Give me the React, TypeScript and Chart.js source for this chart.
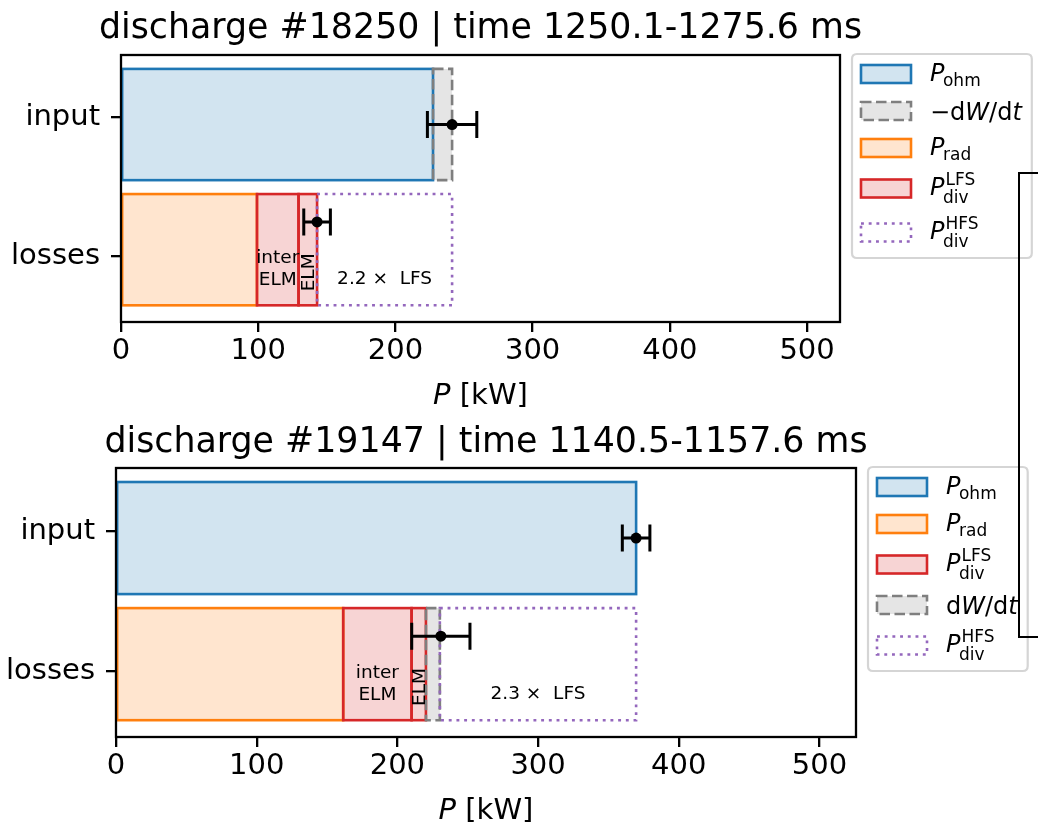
import React, { useEffect, useRef } from 'react';
import { Chart, registerables } from 'chart.js';

Chart.register(...registerables);

const FONT = '"DejaVu Sans", "Liberation Sans", sans-serif';

// ---------------- data ----------------
const yLabels = ['input', 'losses'];
const xTickValues = [0, 100, 200, 300, 400, 500];
const barRows = [0.05, 0.95]; // bar centres for input / losses rows
const errRows = [0.05, 0.75]; // error-bar rows for input / losses
const BAR_HEIGHT = 0.8;

// discharge #18250
const titleA = 'discharge #18250 | time 1250.1-1275.6 ms';
const xMaxA = 524;
const pOhmA = [0, 227.4];
const dWdtA = [227.4, 241.3];
const pRadA = [0, 99.1];
const interElmA = [99.1, 129.4];
const elmA = [129.4, 142.9];
const hfsA = [142.9, 241.3];
const hfsFactorA = 2.2;
const errValueA = [241.3, 142.9];
const errSizeA = [18.0, 9.7];
const legendA = ['ohm', 'dWdtNeg', 'rad', 'lfs', 'hfs'];

// discharge #19147
const titleB = 'discharge #19147 | time 1140.5-1157.6 ms';
const xMaxB = 526;
const pOhmB = [0, 369.7];
const pRadB = [0, 161.5];
const interElmB = [161.5, 210.1];
const elmB = [210.1, 220.3];
const dWdtB = [220.3, 230.2];
const hfsB = [230.2, 369.7];
const hfsFactorB = 2.3;
const errValueB = [369.7, 230.9];
const errSizeB = [9.8, 20.7];
const legendB = ['ohm', 'rad', 'lfs', 'dWdt', 'hfs'];

// ---------------- styles ----------------
const STYLE: Record<string, { fill: string; edge: string; dash: number[] }> = {
  ohm: { fill: 'rgba(31,119,180,0.2)', edge: '#1f77b4', dash: [] },
  rad: { fill: 'rgba(255,127,14,0.2)', edge: '#ff7f0e', dash: [] },
  lfs: { fill: 'rgba(214,39,40,0.2)', edge: '#d62728', dash: [] },
  dw: { fill: 'rgba(127,127,127,0.2)', edge: '#7f7f7f', dash: [10.5, 4.5] },
  hfs: { fill: 'rgba(0,0,0,0)', edge: '#9467bd', dash: [2.9, 4.8] },
};

const LABELS: Record<string, any> = {
  ohm: { style: 'ohm', sub: 'ohm' },
  rad: { style: 'rad', sub: 'rad' },
  lfs: { style: 'lfs', sub: 'div', sup: 'LFS' },
  hfs: { style: 'hfs', sub: 'div', sup: 'HFS' },
  dWdtNeg: { style: 'dw', parts: [['\u2212d', false], ['W', true], ['/d', false], ['t', true]] },
  dWdt: { style: 'dw', parts: [['d', false], ['W', true], ['/d', false], ['t', true]] },
};

const EDGE_W = 2.6;
const TICK_FONT = 29;
const TITLE_FONT = 34.8;
const LEG_FONT = 24;
const LEG_SCRIPT = 17;
const ANN_FONT = 18.5;

type Seg = { style: string; range: number[]; row: number };
type Cfg = {
  title: string;
  xMax: number;
  segments: Seg[];
  errValue: number[];
  errSize: number[];
  legend: string[];
  interElm: number[];
  elm: number[];
  hfs: number[];
  factor: number;
  height: number;
  offset: number;
  areaLeft: number;
  areaRight: number;
  areaTop: number;
  areaBottom: number;
};

const cfgA: Cfg = {
  title: titleA,
  xMax: xMaxA,
  segments: [
    { style: 'ohm', range: pOhmA, row: 0 },
    { style: 'dw', range: dWdtA, row: 0 },
    { style: 'rad', range: pRadA, row: 1 },
    { style: 'lfs', range: interElmA, row: 1 },
    { style: 'lfs', range: elmA, row: 1 },
    { style: 'hfs', range: hfsA, row: 1 },
  ],
  errValue: errValueA,
  errSize: errSizeA,
  legend: legendA,
  interElm: interElmA,
  elm: elmA,
  hfs: hfsA,
  factor: hfsFactorA,
  height: 414,
  offset: 0,
  areaLeft: 121,
  areaRight: 840,
  areaTop: 55,
  areaBottom: 322,
};

const cfgB: Cfg = {
  title: titleB,
  xMax: xMaxB,
  segments: [
    { style: 'ohm', range: pOhmB, row: 0 },
    { style: 'rad', range: pRadB, row: 1 },
    { style: 'lfs', range: interElmB, row: 1 },
    { style: 'lfs', range: elmB, row: 1 },
    { style: 'dw', range: dWdtB, row: 1 },
    { style: 'hfs', range: hfsB, row: 1 },
  ],
  errValue: errValueB,
  errSize: errSizeB,
  legend: legendB,
  interElm: interElmB,
  elm: elmB,
  hfs: hfsB,
  factor: hfsFactorB,
  height: 415,
  offset: 414,
  areaLeft: 116,
  areaRight: 856,
  areaTop: 54,
  areaBottom: 323,
};

// ---------------- drawing helpers ----------------
function labelWidth(ctx: CanvasRenderingContext2D, lab: any): number {
  if (lab.parts) {
    let w = 0;
    for (const [t, it] of lab.parts) {
      ctx.font = `${it ? 'italic ' : ''}${LEG_FONT}px ${FONT}`;
      w += ctx.measureText(t).width;
    }
    return w;
  }
  ctx.font = `italic ${LEG_FONT}px ${FONT}`;
  const pw = ctx.measureText('P').width;
  ctx.font = `${LEG_SCRIPT}px ${FONT}`;
  const sw = Math.max(ctx.measureText(lab.sub || '').width, ctx.measureText(lab.sup || '').width);
  return pw + sw;
}

function drawLabel(ctx: CanvasRenderingContext2D, lab: any, x: number, cy: number) {
  ctx.fillStyle = '#000';
  ctx.textAlign = 'left';
  ctx.textBaseline = 'alphabetic';
  if (lab.parts) {
    let cx = x;
    const base = cy + 8.5;
    for (const [t, it] of lab.parts) {
      ctx.font = `${it ? 'italic ' : ''}${LEG_FONT}px ${FONT}`;
      ctx.fillText(t, cx, base);
      cx += ctx.measureText(t).width;
    }
    return;
  }
  const base = lab.sup ? cy + 6 : cy + 7;
  ctx.font = `italic ${LEG_FONT}px ${FONT}`;
  ctx.fillText('P', x, base);
  const w = ctx.measureText('P').width;
  ctx.font = `${LEG_SCRIPT}px ${FONT}`;
  if (lab.sup) ctx.fillText(lab.sup, x + w + 1, base - 10);
  if (lab.sub) ctx.fillText(lab.sub, x + w - 1.5, base + (lab.sup ? 8 : 5));
}

function roundRect(ctx: CanvasRenderingContext2D, x: number, y: number, w: number, h: number, r: number) {
  ctx.beginPath();
  ctx.moveTo(x + r, y);
  ctx.lineTo(x + w - r, y);
  ctx.quadraticCurveTo(x + w, y, x + w, y + r);
  ctx.lineTo(x + w, y + h - r);
  ctx.quadraticCurveTo(x + w, y + h, x + w - r, y + h);
  ctx.lineTo(x + r, y + h);
  ctx.quadraticCurveTo(x, y + h, x, y + h - r);
  ctx.lineTo(x, y + r);
  ctx.quadraticCurveTo(x, y, x + r, y);
  ctx.closePath();
}

function makePlugin(cfg: Cfg) {
  return {
    id: 'powerBalanceDecor',
    afterDatasetsDraw(chart: any) {
      const ctx: CanvasRenderingContext2D = chart.ctx;
      const xs = chart.scales.x;
      const ys = chart.scales.y;
      const ca = chart.chartArea;

      // bar edges (centered strokes, dashed where needed)
      cfg.segments.forEach((s, i) => {
        const meta = chart.getDatasetMeta(i);
        const st = STYLE[s.style];
        meta.data.forEach((el: any) => {
          const p = el.getProps(['x', 'y', 'base', 'height'], true);
          const l = Math.min(p.x, p.base);
          const r = Math.max(p.x, p.base);
          const t = p.y - p.height / 2;
          const b = p.y + p.height / 2;
          ctx.save();
          ctx.strokeStyle = st.edge;
          ctx.lineWidth = EDGE_W;
          ctx.setLineDash(st.dash);
          ctx.strokeRect(l, t, r - l, b - t);
          ctx.restore();
        });
      });

      // error bars
      ctx.save();
      ctx.strokeStyle = '#000';
      ctx.fillStyle = '#000';
      ctx.lineWidth = 3;
      cfg.errValue.forEach((v, i) => {
        const y = ys.getPixelForValue(errRows[i]);
        const x0 = xs.getPixelForValue(v - cfg.errSize[i]);
        const x1 = xs.getPixelForValue(v + cfg.errSize[i]);
        const xc = xs.getPixelForValue(v);
        ctx.beginPath();
        ctx.moveTo(x0, y);
        ctx.lineTo(x1, y);
        ctx.moveTo(x0, y - 13.5);
        ctx.lineTo(x0, y + 13.5);
        ctx.moveTo(x1, y - 13.5);
        ctx.lineTo(x1, y + 13.5);
        ctx.stroke();
        ctx.beginPath();
        ctx.arc(xc, y, 5.5, 0, Math.PI * 2);
        ctx.fill();
      });
      ctx.restore();

      // annotations
      ctx.save();
      ctx.fillStyle = '#000';
      ctx.font = `${ANN_FONT}px ${FONT}`;
      ctx.textAlign = 'center';
      ctx.textBaseline = 'middle';
      const ix = xs.getPixelForValue((cfg.interElm[0] + cfg.interElm[1]) / 2);
      const iy = ys.getPixelForValue(1.09);
      ctx.fillText('inter', ix, iy - 11);
      ctx.fillText('ELM', ix, iy + 11);
      const fx = xs.getPixelForValue((cfg.hfs[0] + cfg.hfs[1]) / 2);
      const fy = ys.getPixelForValue(1.165);
      ctx.fillText(`${cfg.factor.toFixed(1)} \u00d7  LFS`, fx, fy);
      const ex = xs.getPixelForValue((cfg.elm[0] + cfg.elm[1]) / 2);
      const ey = ys.getPixelForValue(1.113);
      ctx.translate(ex, ey);
      ctx.rotate(-Math.PI / 2);
      ctx.fillText('ELM', 0, 1);
      ctx.restore();

      // axes frame
      ctx.save();
      ctx.strokeStyle = '#000';
      ctx.lineWidth = 2.3;
      ctx.strokeRect(ca.left, ca.top, ca.right - ca.left, ca.bottom - ca.top);
      ctx.restore();
    },
    afterDraw(chart: any) {
      const ctx: CanvasRenderingContext2D = chart.ctx;
      const ca = chart.chartArea;
      const cx = (ca.left + ca.right) / 2;

      ctx.save();
      // title
      ctx.fillStyle = '#000';
      ctx.textAlign = 'center';
      ctx.textBaseline = 'alphabetic';
      ctx.font = `${TITLE_FONT}px ${FONT}`;
      ctx.fillText(cfg.title, cx, 38);

      // x-axis label: P [kW]
      ctx.font = `italic ${TICK_FONT}px ${FONT}`;
      const wP = ctx.measureText('P').width;
      ctx.font = `${TICK_FONT}px ${FONT}`;
      const wR = ctx.measureText(' [kW]').width;
      const lx = cx - (wP + wR) / 2;
      const ly = ca.bottom + 82;
      ctx.textAlign = 'left';
      ctx.font = `italic ${TICK_FONT}px ${FONT}`;
      ctx.fillText('P', lx, ly);
      ctx.font = `${TICK_FONT}px ${FONT}`;
      ctx.fillText(' [kW]', lx + wP, ly);

      // legend
      const labs = cfg.legend.map((k) => LABELS[k]);
      const maxW = Math.max(...labs.map((l) => labelWidth(ctx, l)));
      const fl = ca.right + 12;
      const ft = ca.top - 1;
      const fw = 9 + 50 + 19 + maxW + 10;
      const rows: number[] = [];
      let yy = ft + 1.5;
      labs.forEach((l) => {
        const h = l.sup ? 44 : 37;
        rows.push(yy + h / 2);
        yy += h;
      });
      const fh = yy - ft + 3.5;
      roundRect(ctx, fl, ft, fw, fh, 5);
      ctx.fillStyle = 'rgba(255,255,255,0.8)';
      ctx.fill();
      ctx.strokeStyle = '#d5d5d5';
      ctx.lineWidth = 2.2;
      ctx.stroke();
      labs.forEach((l, i) => {
        const st = STYLE[l.style];
        const cy = rows[i];
        ctx.fillStyle = st.fill;
        ctx.fillRect(fl + 9, cy - 9, 50, 18);
        ctx.strokeStyle = st.edge;
        ctx.lineWidth = EDGE_W;
        ctx.setLineDash(st.dash);
        ctx.strokeRect(fl + 9, cy - 9, 50, 18);
        ctx.setLineDash([]);
        drawLabel(ctx, l, fl + 78, cy);
      });
      ctx.restore();
    },
  };
}

function PowerPanel({ cfg }: { cfg: Cfg }) {
  const ref = useRef<HTMLCanvasElement | null>(null);
  useEffect(() => {
    if (!ref.current) return;
    const H = cfg.height;
    const gridOpts = {
      display: true,
      offset: false,
      drawOnChartArea: false,
      drawTicks: true,
      tickLength: 10,
      tickWidth: 2.3,
      tickColor: '#000',
      color: '#000',
      lineWidth: 2.3,
    };
    const chart = new Chart(ref.current, {
      type: 'bar',
      data: {
        datasets: cfg.segments.map((s) => ({
          label: s.style,
          data: [{ x: s.range, y: barRows[s.row] }],
          backgroundColor: STYLE[s.style].fill,
          borderWidth: 0,
          grouped: false,
          categoryPercentage: 1,
          barPercentage: BAR_HEIGHT / (barRows[1] - barRows[0]),
        })) as any,
      },
      options: {
        animation: false,
        responsive: false,
        events: [],
        indexAxis: 'y',
        layout: {
          padding: { left: 0, top: cfg.areaTop, right: 1038 - cfg.areaRight, bottom: 0 },
        },
        plugins: {
          legend: { display: false },
          title: { display: false },
          tooltip: { enabled: false },
        },
        scales: {
          x: {
            type: 'linear',
            position: 'bottom',
            offset: false,
            min: 0,
            max: cfg.xMax,
            afterBuildTicks: (s: any) => {
              s.ticks = xTickValues.map((v) => ({ value: v }));
            },
            afterFit: (s: any) => {
              s.height = H - cfg.areaBottom;
            },
            grid: gridOpts,
            border: { display: false },
            ticks: {
              color: '#000',
              font: { size: TICK_FONT, family: FONT },
              padding: 2,
              maxRotation: 0,
              autoSkip: false,
            },
          },
          y: {
            type: 'linear',
            position: 'left',
            offset: false,
            min: -0.45,
            max: 1.47,
            reverse: true,
            afterBuildTicks: (s: any) => {
              s.ticks = yLabels.map((_, i) => ({ value: i }));
            },
            afterFit: (s: any) => {
              s.width = cfg.areaLeft;
            },
            grid: gridOpts,
            border: { display: false },
            ticks: {
              color: '#000',
              font: { size: TICK_FONT, family: FONT },
              padding: 11,
              autoSkip: false,
              callback: (v: any) => yLabels[Number(v)] ?? '',
            },
          },
        },
      } as any,
      plugins: [makePlugin(cfg)],
    });
    return () => chart.destroy();
  }, [cfg]);
  return (
    <canvas
      ref={ref}
      width={1038}
      height={cfg.height}
      style={{ position: 'absolute', left: 0, top: cfg.offset, width: 1038, height: cfg.height, display: 'block' }}
    />
  );
}

export default function App() {
  return (
    <div
      style={{
        position: 'absolute',
        left: 0,
        top: 0,
        width: 1038,
        height: 829,
        overflow: 'hidden',
        background: '#fff',
      }}
    >
      <PowerPanel cfg={cfgA} />
      <PowerPanel cfg={cfgB} />
      <div
        style={{
          position: 'absolute',
          left: 1018,
          top: 172,
          width: 60,
          height: 466,
          border: '2px solid #000',
          boxSizing: 'border-box',
          background: 'transparent',
          pointerEvents: 'none',
        }}
      />
    </div>
  );
}
